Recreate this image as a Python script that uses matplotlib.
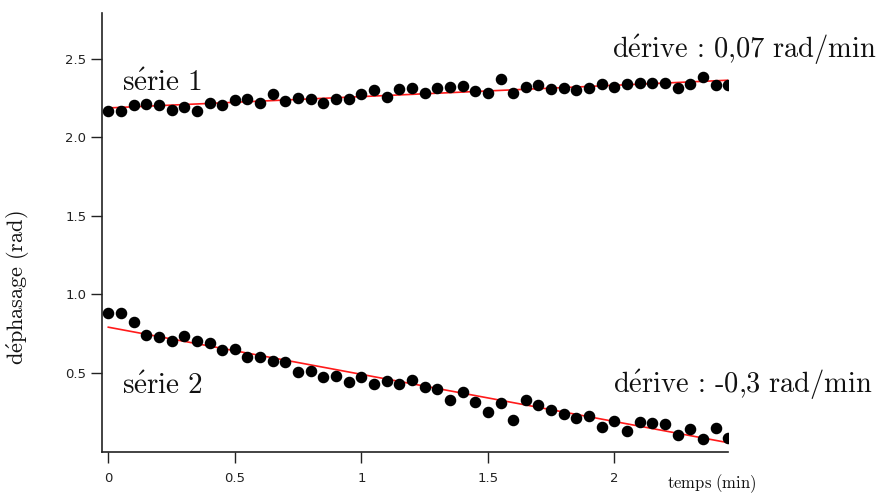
import matplotlib
matplotlib.use("Agg")
import matplotlib.pyplot as plt
import numpy as np

# Sampling: one point every 0.05 min (3 s)
temps = np.arange(50) * 0.05

serie1 = [2.169, 2.169, 2.207, 2.211, 2.207, 2.175, 2.192, 2.164, 2.218, 2.203,
          2.234, 2.245, 2.218, 2.275, 2.232, 2.250, 2.245, 2.218, 2.245, 2.245,
          2.275, 2.298, 2.256, 2.309, 2.313, 2.282, 2.313, 2.317, 2.328, 2.292,
          2.282, 2.371, 2.282, 2.317, 2.334, 2.307, 2.313, 2.303, 2.313, 2.341,
          2.317, 2.339, 2.345, 2.345, 2.345, 2.313, 2.339, 2.383, 2.334, 2.334]

serie2 = [0.880, 0.880, 0.827, 0.742, 0.727, 0.706, 0.738, 0.706, 0.689, 0.646,
          0.653, 0.604, 0.604, 0.576, 0.568, 0.508, 0.513, 0.473, 0.483, 0.445,
          0.473, 0.430, 0.449, 0.428, 0.455, 0.413, 0.396, 0.328, 0.377, 0.317,
          0.254, 0.307, 0.201, 0.328, 0.296, 0.264, 0.239, 0.215, 0.226, 0.158,
          0.196, 0.131, 0.190, 0.180, 0.173, 0.105, 0.141, 0.080, 0.148, 0.084]

# Linear fits (origin, drift in rad/min)
fit1 = (2.186, 0.072)
fit2 = (0.791, -0.30)

xticks = [0, 0.5, 1, 1.5, 2]
xtick_labels = ["0", "0.5", "1", "1.5", "2"]
yticks = [0.5, 1.0, 1.5, 2.0, 2.5]

plt.rcParams["mathtext.fontset"] = "cm"

fig = plt.figure(figsize=(8.83, 4.94), dpi=100)
ax = fig.add_axes([0.1152, 0.086, 0.7093, 0.8877])

for serie, (a, b) in [(serie1, fit1), (serie2, fit2)]:
    ax.plot(temps, serie, "o", color="black", markersize=7.3, zorder=3)
    ax.plot(temps, a + b * temps, "-", color="#ff1a1a", linewidth=1.2, zorder=2)

ax.set_xlim(-0.026, 2.449)
ax.set_ylim(0, 2.79)

for side in ["top", "right"]:
    ax.spines[side].set_visible(False)
for side in ["left", "bottom"]:
    ax.spines[side].set_color("#222222")
    ax.spines[side].set_linewidth(1.2)

ax.set_xticks(xticks)
ax.set_xticklabels(xtick_labels)
ax.set_yticks(yticks)
ax.tick_params(axis="both", direction="out", length=8, width=1.0, color="#222222",
               labelsize=9.5, labelcolor="#222222")
ax.tick_params(axis="x", pad=7)
ax.tick_params(axis="y", pad=3)

ax.text(0.053, 2.292, r"$\mathrm{s\acute{e}rie\ 1}$", ha="left", va="baseline",
        fontsize=21, color="#111111")
ax.text(0.053, 0.366, r"$\mathrm{s\acute{e}rie\ 2}$", ha="left", va="baseline",
        fontsize=21, color="#111111")
ax.text(1.991, 2.506, r"$\mathrm{d\acute{e}rive\,:\,0{,}07\ rad/min}$",
        ha="left", va="baseline", clip_on=False, fontsize=20.5, color="#111111")
ax.text(1.996, 0.371, r"$\mathrm{d\acute{e}rive\,:\,\text{-}0{,}3\ rad/min}$",
        ha="left", va="baseline", clip_on=False, fontsize=20.5, color="#111111")

fig.text(0.755, 0.012, r"$\mathrm{temps\ (min)}$", ha="left", va="baseline",
         fontsize=12, color="#111111")
fig.text(0.021, 0.417, r"$\mathrm{d\acute{e}phasage\ (rad)}$", rotation=90,
         ha="center", va="center", fontsize=16, color="#111111")

fig.savefig("out.png", dpi=100)
